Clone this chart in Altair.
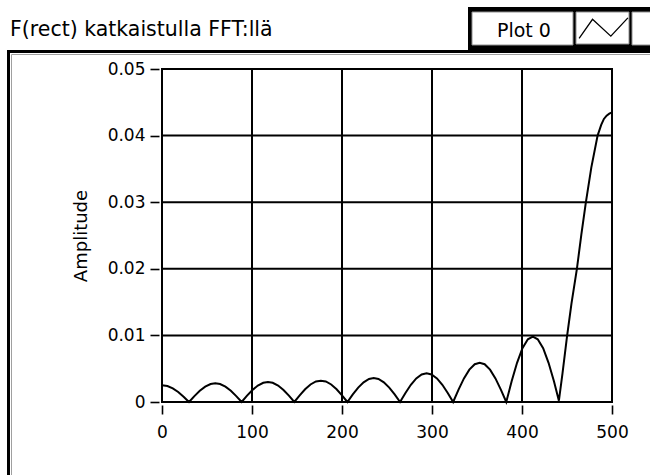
import altair as alt
import pandas as pd

# Spectrum samples: frequency bin and amplitude
freq = [
    0, 6, 12, 18, 24, 30,
    36, 42, 48, 54, 59.25, 64.5, 70.5, 76.5, 82.5, 88.5,
    94.5, 100.5, 106.5, 112.5, 117.75, 123, 129, 135, 141, 147,
    153, 159, 165, 171, 176.5, 182, 188, 194, 200, 206,
    212, 218, 224, 230, 235.25, 240.5, 246.5, 252.5, 258.5, 264.5,
    270.5, 276.5, 282.5, 288.5, 294, 299.5, 305.5, 311.5, 317.5, 323.5,
    329.5, 335.5, 341.5, 347.5, 353, 358.5, 364.5, 370.5, 376.5, 382.5,
    388.5, 394.5, 400.5, 406.5, 412, 417.5, 423.5, 429.5, 435.5, 441,
    445, 450, 455, 461, 466, 471, 477, 484, 488, 491, 494, 497, 500,
]
amplitude = [
    0.0025, 0.0024, 0.00205, 0.0015, 0.00079, 0.0,
    0.00089, 0.00168, 0.0023, 0.00269, 0.0028, 0.00269, 0.0023, 0.00168, 0.00089, 0.0,
    0.00095, 0.0018, 0.00247, 0.00288, 0.0030, 0.00288, 0.00247, 0.0018, 0.00095, 0.0,
    0.00101, 0.00192, 0.00263, 0.00308, 0.0032, 0.00308, 0.00263, 0.00192, 0.00101, 0.0,
    0.00114, 0.00216, 0.00296, 0.00346, 0.0036, 0.00346, 0.00296, 0.00216, 0.00114, 0.0,
    0.00136, 0.00258, 0.00354, 0.00413, 0.0043, 0.00413, 0.00354, 0.00258, 0.00136, 0.0,
    0.00187, 0.00354, 0.00486, 0.00567, 0.0059, 0.00567, 0.00486, 0.00354, 0.00187, 0.0,
    0.00311, 0.00588, 0.00807, 0.00942, 0.0098, 0.00942, 0.00807, 0.00588, 0.00311, 0.0002,
    0.0043, 0.0098, 0.0148, 0.0200, 0.0252, 0.0300, 0.0352, 0.0400, 0.0416, 0.0425, 0.0430, 0.0433, 0.0435,
]
series_name = "Plot 0"

x_ticks = [0, 100, 200, 300, 400, 500]
y_ticks = [0, 0.01, 0.02, 0.03, 0.04, 0.05]
x_grid = [100, 200, 300, 400]
y_grid = [0.01, 0.02, 0.03, 0.04]

chart_title = "F(rect) katkaistulla FFT:llä"
y_title = "Amplitude"

FONT = "DejaVu Sans"
W, H = 450, 333

df = pd.DataFrame({"freq": freq, "amp": amplitude, "series": [series_name] * len(freq)})
one = pd.DataFrame({"k": [0]})

x_scale = alt.Scale(domain=[0, 500], nice=False, zero=False)
y_scale = alt.Scale(domain=[0, 0.05], nice=False)

x_axis = alt.Axis(
    values=x_ticks, grid=False, domain=False, offset=3, tickSize=9,
    tickColor="black", tickWidth=1.6, labelFont=FONT, labelFontSize=17,
    labelColor="black", labelPadding=10, labelFlush=False, title=None,
)
y_axis = alt.Axis(
    values=y_ticks, grid=False, domain=False, offset=3, tickSize=9,
    tickColor="black", tickWidth=1.6, labelFont=FONT, labelFontSize=17,
    labelColor="black", labelPadding=5, labelFlush=False,
    labelExpr="datum.value == 0 ? '0' : format(datum.value, '.2f')",
    title=y_title, titleFont=FONT, titleFontSize=18, titleFontWeight="normal",
    titleColor="black", titlePadding=17,
)


def box(x1, x2, y1, y2, **style):
    return alt.Chart(one).mark_rect(**style).encode(
        x=alt.value(x1), x2=alt.value(x2), y=alt.value(y1), y2=alt.value(y2)
    )


# Outer panel border and the legend housing above it
panel = box(-153.5, W + 40, -17.5, H + 90, fillOpacity=0, stroke="black", strokeWidth=3)
panel_inner = box(-150.5, W + 40, -14.5, H + 90, fillOpacity=0, stroke="#a0a0a0", strokeWidth=1)
legend_back = box(306, 500, -62, -16, fill="black")
legend_label_box = box(310, 411, -57, -24, fill="white", stroke="#909090", strokeWidth=1)
legend_icon_box = box(414, 467, -57, -25, fill="white", stroke="#909090", strokeWidth=1)
legend_extra_box = box(470, 500, -57, -24, fill="white", stroke="#909090", strokeWidth=1)

title = alt.Chart(one).mark_text(
    text=chart_title, align="left", baseline="alphabetic", font=FONT,
    fontSize=20.5, color="black",
).encode(x=alt.value(-152), y=alt.value(-33))

grid_x = alt.Chart(pd.DataFrame({"g": x_grid})).mark_rule(color="black", strokeWidth=2).encode(
    x=alt.X("g:Q", scale=x_scale, axis=x_axis)
)
grid_y = alt.Chart(pd.DataFrame({"g": y_grid})).mark_rule(color="black", strokeWidth=2).encode(
    y=alt.Y("g:Q", scale=y_scale, axis=y_axis)
)

line = alt.Chart(df).mark_line(strokeWidth=2).encode(
    x=alt.X("freq:Q", scale=x_scale, axis=x_axis),
    y=alt.Y("amp:Q", scale=y_scale, axis=y_axis),
    color=alt.Color(
        "series:N",
        scale=alt.Scale(range=["black"]),
        legend=alt.Legend(
            orient="none", legendX=335, legendY=-66.4, padding=0,
            title=series_name, titleOrient="left", titleAnchor="middle",
            titleBaseline="top", titleFont=FONT, titleFontSize=19,
            titleFontWeight="normal", titleColor="black", titlePadding=27,
            symbolType="M-1,0.42L-0.45,-0.36L0.3,0.33L1,-0.42",
            symbolSize=2380, symbolStrokeWidth=1.3, symbolFillColor="transparent",
            symbolStrokeColor="black", labelExpr="''", labelOffset=0,
        ),
    ),
)

chart = alt.layer(
    panel, panel_inner, legend_back, legend_label_box, legend_icon_box,
    legend_extra_box, title, grid_x, grid_y, line,
).properties(
    width=W, height=H,
    autosize=alt.AutoSizeParams(type="none"),
    padding={"left": 162, "top": 69, "right": 38, "bottom": 73},
    background="white",
).configure_view(stroke="black", strokeWidth=2)

chart.save("out.html", embed_options={"renderer": "svg", "actions": False})
